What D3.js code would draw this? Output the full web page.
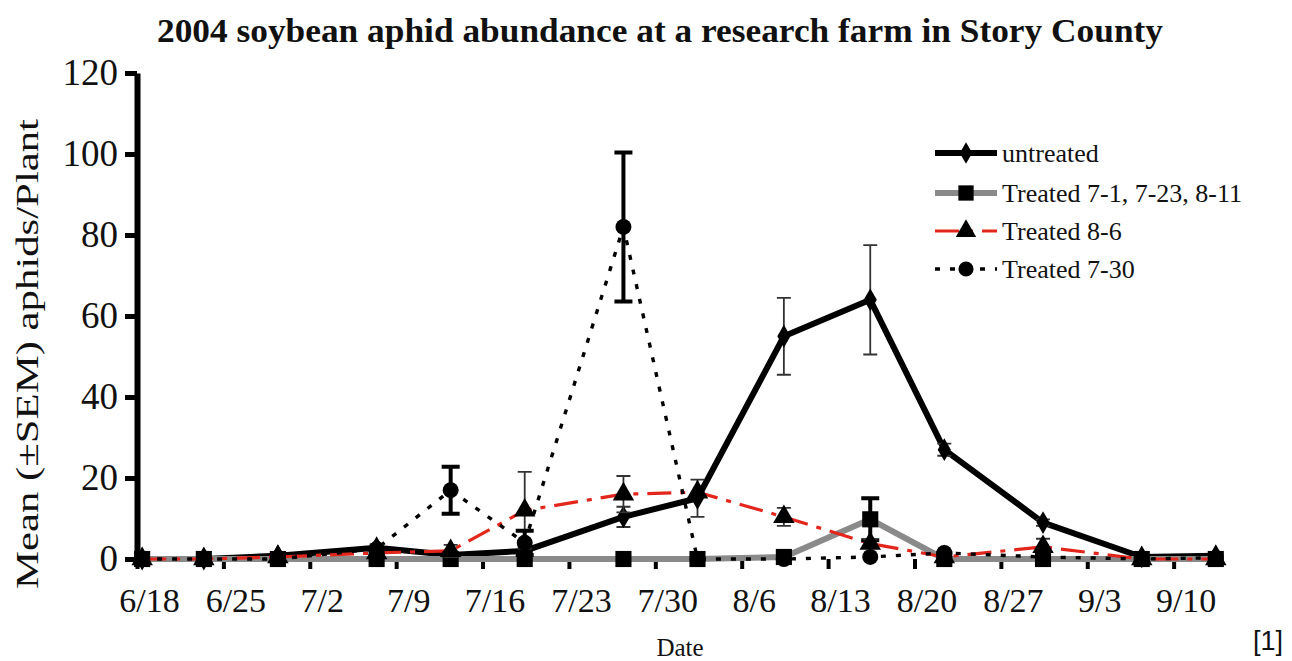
<!DOCTYPE html>
<html>
<head>
<meta charset="utf-8">
<style>
  body { margin: 0; background: #fff; }
  svg text { font-family: "Liberation Serif", "Times New Roman", serif; fill: #111; }
</style>
</head>
<body>
<svg width="1292" height="661"></svg>
<script src="https://cdn.jsdelivr.net/npm/d3@7"></script>
<script>

// 2004 soybean aphid counts
var dates = ["6/18", "6/23", "6/29", "7/7", "7/13", "7/19", "7/27", "8/2", "8/9", "8/16", "8/22", "8/30", "9/7", "9/13"];

var untreated      = [0, 0, 0.8, 2.8, 1, 2, 10.4, 15, 55, 64, 27, 9, 0.5, 0.8];
var untreatedSem   = [0, 0, 0, 0.8, 0.5, 0.8, 2.5, 4.6, 9.5, 13.5, 1.5, 0.8, 0, 0];
var treated3x      = [0, 0, 0, 0, 0, 0, 0, 0, 0.5, 9.8, 0, 0, 0, 0];
var treated3xSem   = [0, 0, 0, 0, 0, 0, 0, 0, 0, 5.2, 0, 0, 0, 0];
var treated86      = [0, 0, 0.5, 1.5, 2, 12, 16, 16.5, 10.4, 3.8, 0.5, 3, 0, 0];
var treated86Sem   = [0, 0, 0, 0, 1.5, 9.5, 4.5, 0, 2.2, 1, 0, 2, 0, 0];
var treated730     = [0, 0, 0, 2.5, 17, 4, 82, 0, 0, 0.5, 1.5, 0.5, 0, 0.3];
var treated730Sem  = [0, 0, 0, 0, 5.8, 3, 18.4, 0, 0, 0, 0, 0, 0, 0];

var tickLabels = ["6/18", "6/25", "7/2", "7/9", "7/16", "7/23", "7/30", "8/6", "8/13", "8/20", "8/27", "9/3", "9/10"];
var yTicks = [0, 20, 40, 60, 80, 100, 120];

var parseDate = d3.timeParse("%m/%d/%Y");
function toDate(s) { return parseDate(s + "/2004"); }

var series = [
  { name: "untreated", values: untreated, sem: untreatedSem, color: "#000", width: 6, dash: null,
    marker: d3.symbolDiamond, size: 150, errColor: "#333", errWidth: 1.8, cap: 7 },
  { name: "Treated 7-1, 7-23, 8-11", values: treated3x, sem: treated3xSem, color: "#8a8a8a", width: 6, dash: null,
    marker: d3.symbolSquare, size: 260, errColor: "#000", errWidth: 4, cap: 9 },
  { name: "Treated 8-6", values: treated86, sem: treated86Sem, color: "#e3261c", width: 3.2, dash: "24,9,5,9",
    marker: d3.symbolTriangle, size: 200, errColor: "#333", errWidth: 1.8, cap: 7 },
  { name: "Treated 7-30", values: treated730, sem: treated730Sem, color: "#000", width: 3.4, dash: "5,10",
    marker: d3.symbolCircle, size: 200, errColor: "#000", errWidth: 4, cap: 9 }
];

var svg = d3.select("svg");

var x = d3.scaleTime()
    .domain([toDate("6/18"), toDate("9/14")])
    .range([137, 1223]);

var y = d3.scaleLinear()
    .domain([0, 120])
    .range([559, 73]);

// points were sampled around midday
function px(s) { return x(d3.timeHour.offset(toDate(s), 10)); }

var line = d3.line()
    .x(function(d) { return px(d.date); })
    .y(function(d) { return y(d.value); });

// title
svg.append("text")
    .attr("x", 660)
    .attr("y", 42)
    .attr("text-anchor", "middle")
    .attr("font-weight", "bold")
    .attr("font-size", 34)
    .attr("textLength", 1006)
    .attr("lengthAdjust", "spacingAndGlyphs")
    .text("2004 soybean aphid abundance at a research farm in Story County");

// x axis (ticks only, labels sit one day to the right)
var xAxis = svg.append("g")
    .attr("transform", "translate(0,559)")
    .call(d3.axisBottom(x)
      .tickValues(tickLabels.map(toDate))
      .tickSize(10)
      .tickFormat(function(d, i) { return tickLabels[i]; }));
xAxis.select(".domain").remove();
xAxis.selectAll(".tick line").attr("stroke", "#000").attr("stroke-width", 4);
xAxis.selectAll(".tick text")
    .attr("fill", "#111")
    .attr("font-family", "Liberation Serif, serif")
    .attr("font-size", 34)
    .attr("dx", 12)
    .attr("y", 53)
    .attr("dy", 0);

svg.append("text")
    .attr("x", 680)
    .attr("y", 656)
    .attr("text-anchor", "middle")
    .attr("font-size", 25)
    .text("Date");

// lines
series.forEach(function(s) {
  var pts = dates.map(function(d, i) { return { date: d, value: s.values[i], sem: s.sem[i] }; });
  s.pts = pts;
  svg.append("path")
      .datum(pts)
      .attr("fill", "none")
      .attr("stroke", s.color)
      .attr("stroke-width", s.width)
      .attr("stroke-dasharray", s.dash)
      .attr("stroke-linejoin", "round")
      .attr("d", line);
});

// error bars and markers
series.forEach(function(s) {
  var g = svg.append("g");
  var bars = s.pts.filter(function(d) { return d.sem > 0; });
  g.selectAll(".err")
      .data(bars)
    .enter().append("path")
      .attr("fill", "none")
      .attr("stroke", s.errColor)
      .attr("stroke-width", s.errWidth)
      .attr("d", function(d) {
        var cx = px(d.date), t = y(d.value + d.sem), b = y(d.value - d.sem);
        return "M" + (cx - s.cap) + "," + t + "H" + (cx + s.cap) +
               "M" + cx + "," + t + "V" + b +
               "M" + (cx - s.cap) + "," + b + "H" + (cx + s.cap);
      });
  g.selectAll(".pt")
      .data(s.pts)
    .enter().append("path")
      .attr("fill", "#000")
      .attr("transform", function(d) { return "translate(" + px(d.date) + "," + y(d.value) + ")"; })
      .attr("d", d3.symbol().type(s.marker).size(s.size));
});

// y axis
var yAxis = svg.append("g")
    .attr("transform", "translate(137,0)")
    .call(d3.axisLeft(y).tickValues(yTicks).tickSize(12).tickSizeOuter(0).tickPadding(7));
yAxis.select(".domain").attr("stroke", "#000").attr("stroke-width", 6);
yAxis.selectAll(".tick line").attr("stroke", "#000").attr("stroke-width", 5);
yAxis.selectAll(".tick text")
    .attr("fill", "#111")
    .attr("font-family", "Liberation Serif, serif")
    .attr("font-size", 37);

svg.append("text")
    .attr("transform", "translate(38,354) rotate(-90)")
    .attr("text-anchor", "middle")
    .attr("font-size", 32)
    .attr("textLength", 470)
    .attr("lengthAdjust", "spacingAndGlyphs")
    .text("Mean (\u00B1SEM) aphids/Plant");

// legend
var legend = svg.append("g").attr("transform", "translate(935,0)");
var rows = [153, 193, 231, 269];
series.forEach(function(s, i) {
  var r = legend.append("g").attr("transform", "translate(0," + rows[i] + ")");
  r.append("line")
      .attr("x1", 0).attr("x2", 62)
      .attr("stroke", s.color)
      .attr("stroke-width", s.width)
      .attr("stroke-dasharray", s.dash);
  r.append("path")
      .attr("transform", "translate(31,0)")
      .attr("d", d3.symbol().type(s.marker).size(s.size * 0.9));
  r.append("text")
      .attr("x", 67)
      .attr("y", 9)
      .attr("font-size", 26)
      .text(s.name);
});

svg.append("text")
    .attr("x", 1283)
    .attr("y", 650)
    .attr("text-anchor", "end")
    .style("font-family", "'Liberation Sans', Arial, sans-serif")
    .attr("font-size", 27)
    .text("[1]");

</script>
</body>
</html>
